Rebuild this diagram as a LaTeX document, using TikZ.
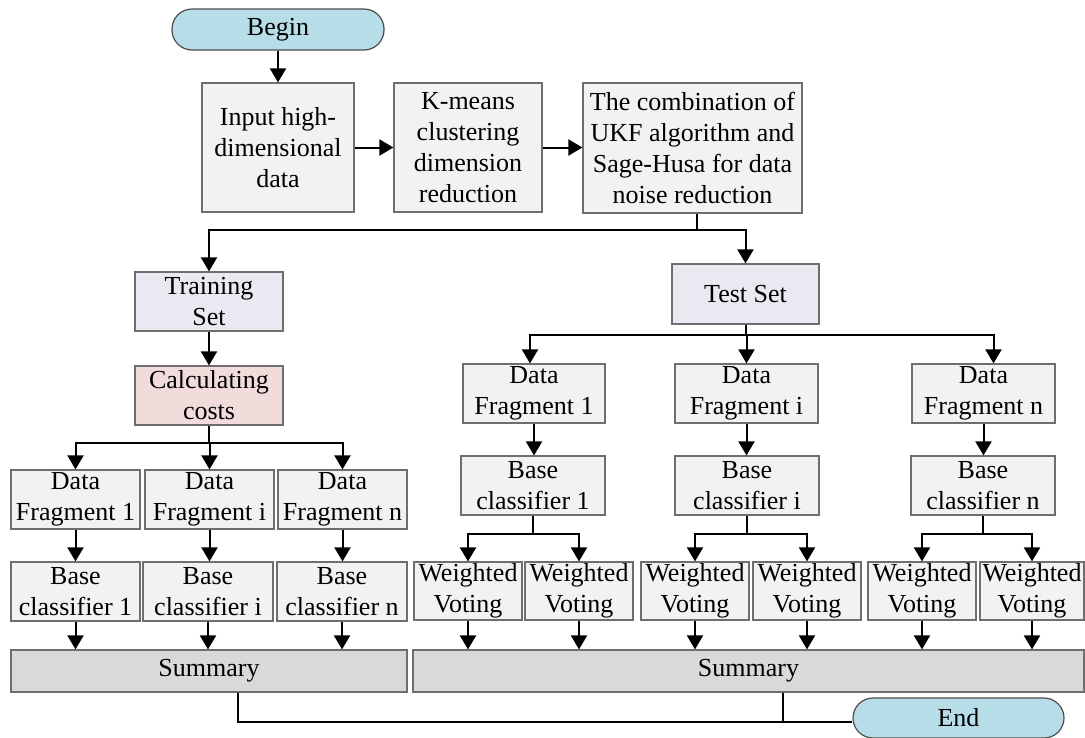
\documentclass[tikz,border=0pt]{standalone}
\usepackage{fontspec}
\setmainfont{Liberation Serif}
\usetikzlibrary{arrows.meta,calc}
\definecolor{bd}{HTML}{6E6E6E}
\definecolor{bf}{HTML}{F2F2F2}
\definecolor{setf}{HTML}{EAE8F1}
\definecolor{costf}{HTML}{F2DCDB}
\definecolor{sumf}{HTML}{D9D9D9}
\definecolor{termf}{HTML}{B7DEE8}
\begin{document}
\begin{tikzpicture}[x=1pt,y=-1pt,
 box/.style={draw=bd, line width=1.2pt, fill=bf, inner sep=0pt, align=center, font=\fontsize{26}{31}\selectfont},
 term/.style={box, draw=black!70, fill=termf, rounded corners=20pt},
 arr/.style={line width=2pt, -{Triangle[width=16pt,length=14pt]}},
 ln/.style={line width=2pt},
 thinln/.style={line width=1.3pt}]
\useasboundingbox (0,0) rectangle (1085,737);

% top row
\node[term, minimum width=212pt, minimum height=41pt] (begin) at (278,29.5) {Begin};
\node[box, minimum width=152pt, minimum height=129pt] (in) at (278,147.5) {Input high-\\dimensional\\data};
\node[box, minimum width=148pt, minimum height=129pt] (km) at (468,147.5) {K-means\\clustering\\dimension\\reduction};
\node[box, minimum width=219pt, minimum height=130pt] (comb) at (692.5,148) {The combination of\\UKF algorithm and\\Sage-Husa for data\\noise reduction};

% sets
\node[box, fill=setf, minimum width=148pt, minimum height=59pt] (train) at (209,301.5) {Training\\Set};
\node[box, fill=costf, minimum width=148pt, minimum height=59pt] (calc) at (209,395.5) {Calculating\\costs};
\node[box, fill=setf, minimum width=147pt, minimum height=60pt] (test) at (745.5,294) {Test Set};

% left branch
\node[box, minimum width=129pt, minimum height=59pt] (ldf1) at (75.5,499.5) {Data\\Fragment 1};
\node[box, minimum width=129pt, minimum height=59pt] (ldfi) at (209.5,499.5) {Data\\Fragment i};
\node[box, minimum width=129pt, minimum height=59pt] (ldfn) at (342.5,499.5) {Data\\Fragment n};
\node[box, minimum width=129pt, minimum height=59pt] (lbc1) at (75.5,591.5) {Base\\classifier 1};
\node[box, minimum width=130pt, minimum height=59pt] (lbci) at (208,591.5) {Base\\classifier i};
\node[box, minimum width=130pt, minimum height=59pt] (lbcn) at (342,591.5) {Base\\classifier n};
\node[box, fill=sumf, minimum width=396pt, minimum height=42pt] (lsum) at (209,671) {Summary};

% right branch
\node[box, minimum width=142pt, minimum height=59pt] (tdf1) at (534,393.5) {Data\\Fragment 1};
\node[box, minimum width=143pt, minimum height=59pt] (tdfi) at (746.5,393.5) {Data\\Fragment i};
\node[box, minimum width=143pt, minimum height=59pt] (tdfn) at (983.5,393.5) {Data\\Fragment n};
\node[box, minimum width=144pt, minimum height=59pt] (tbc1) at (533,485.5) {Base\\classifier 1};
\node[box, minimum width=144pt, minimum height=59pt] (tbci) at (747,485.5) {Base\\classifier i};
\node[box, minimum width=144pt, minimum height=59pt] (tbcn) at (983,485.5) {Base\\classifier n};
\node[box, minimum width=108pt, minimum height=58pt] (w1a) at (468,591) {Weighted\\Voting};
\node[box, minimum width=108pt, minimum height=58pt] (w1b) at (579,591) {Weighted\\Voting};
\node[box, minimum width=108pt, minimum height=58pt] (wia) at (695,591) {Weighted\\Voting};
\node[box, minimum width=108pt, minimum height=58pt] (wib) at (807,591) {Weighted\\Voting};
\node[box, minimum width=108pt, minimum height=58pt] (wna) at (922,591) {Weighted\\Voting};
\node[box, minimum width=104pt, minimum height=58pt] (wnb) at (1032,591) {Weighted\\Voting};
\node[box, fill=sumf, minimum width=671pt, minimum height=42pt] (rsum) at (748.5,671) {Summary};

\node[term, minimum width=211pt, minimum height=40pt] (end) at (958.5,718) {End};

% connectors top
\draw[arr] (begin.south) -- (in.north);
\draw[arr] (in.east) -- (in.east -| km.west);
\draw[arr] (km.east) -- (km.east -| comb.west);
\coordinate (cb) at (697,230);
\draw[ln] (comb.south -| cb) -- (cb);
\draw[arr] (cb) -| (train.north);
\draw[arr] (cb) -| (test.north);

% left
\draw[arr] (train.south) -- (calc.north);
\coordinate (cc) at (209,443);
\draw[ln] (calc.south) -- (cc);
\draw[arr] (cc) -| (ldf1.north);
\draw[arr] (cc) -| (ldfi.north);
\draw[arr] (cc) -| (ldfn.north);
\foreach \a/\b in {ldf1/lbc1, ldfi/lbci, ldfn/lbcn}
  \draw[arr] (\a.south) -- (\a.south |- \b.north);
\foreach \a in {lbc1, lbci, lbcn}
  \draw[arr] (\a.south) -- (\a.south |- lsum.north);

% right
\coordinate (tc) at (745.5,335);
\draw[ln] (test.south) -- (tc);
\draw[arr] (tc) -| ([xshift=-4pt]tdf1.north);
\draw[arr] (tc) -| (tdfi.north);
\draw[arr] (tc) -| ([xshift=10pt]tdfn.north);
\foreach \a/\b in {tdf1/tbc1, tdfi/tbci, tdfn/tbcn}
  \draw[arr] (\a.south) -- (\a.south |- \b.north);
\foreach \b/\x/\y in {tbc1/w1a/w1b, tbci/wia/wib, tbcn/wna/wnb} {
  \draw[ln] (\b.south) -- ++(0,18) coordinate (br);
  \draw[arr] (br) -| (\x.north);
  \draw[arr] (br) -| (\y.north);
}
\foreach \a in {w1a, w1b, wia, wib, wna, wnb}
  \draw[arr] (\a.south) -- (\a.south |- rsum.north);

% to end
\coordinate (e1) at (238,722);
\coordinate (e2) at (783,722);
\draw[thinln] (lsum.south -| e1) -- (e1) -- (e1 -| end.west);
\draw[thinln] (rsum.south -| e2) -- (e2);
\end{tikzpicture}
\end{document}
